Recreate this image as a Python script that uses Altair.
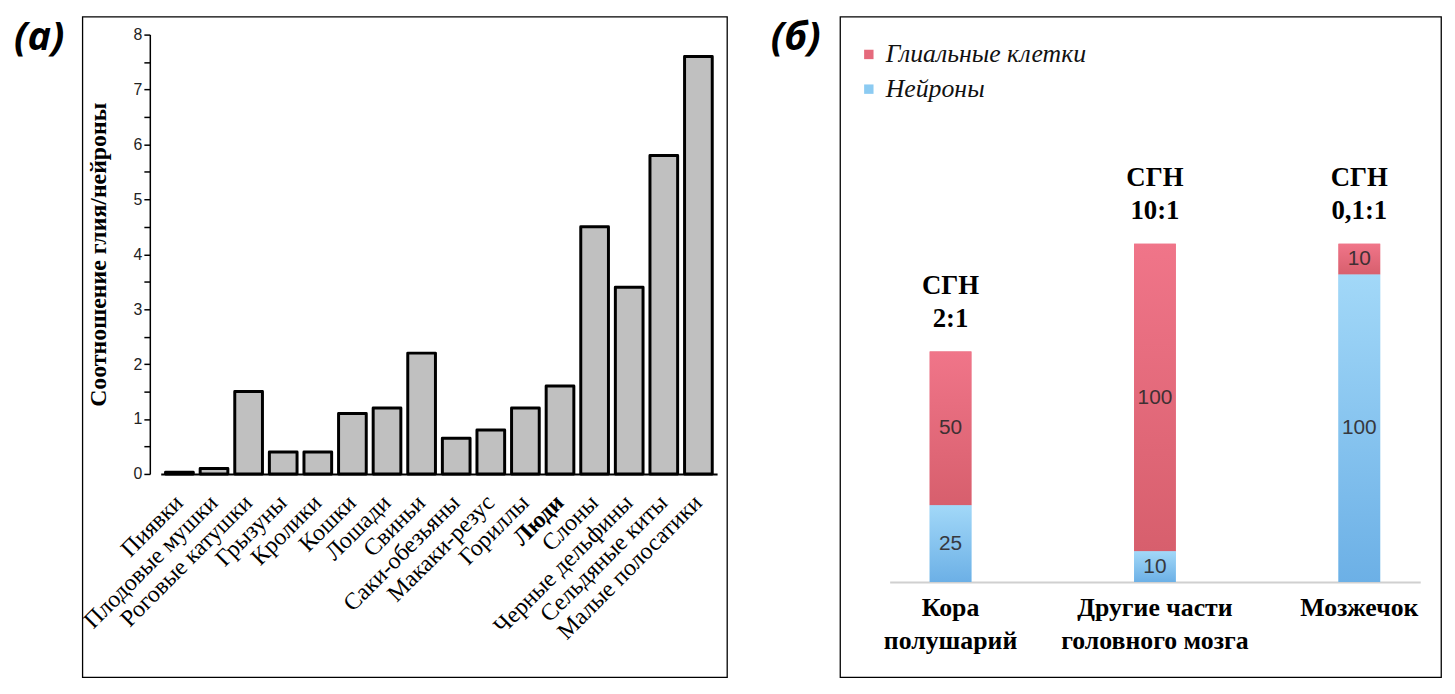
import altair as alt
import pandas as pd

# ---- Panel (а) data ----
species = ["Пиявки", "Плодовые мушки", "Роговые катушки", "Грызуны", "Кролики",
           "Кошки", "Лошади", "Свиньи", "Саки-обезьяны", "Макаки-резус", "Гориллы",
           "Люди", "Слоны", "Черные дельфины", "Сельдяные киты", "Малые полосатики"]
ratios = [0.03, 0.1, 1.5, 0.4, 0.4, 1.1, 1.2, 2.2, 0.65, 0.8, 1.2, 1.6, 4.5, 3.4, 5.8, 7.6]
y_tick_values = [0, 0.5, 1, 1.5, 2, 2.5, 3, 3.5, 4, 4.5, 5, 5.5, 6, 6.5, 7, 7.5, 8]

# ---- Panel (б) data ----
regions = ["Кора\nполушарий", "Другие части\nголовного мозга", "Мозжечок"]
neurons = [25, 10, 100]
glia = [50, 100, 10]
ratio_text = ["2:1", "10:1", "0,1:1"]
series = ["Глиальные клетки", "Нейроны"]

# ---------------- Left panel ----------------
dfa = pd.DataFrame({"species": species, "ratio": ratios})

title_style = dict(anchor="start", orient="top", font="Open Sans", fontSize=40,
                   fontWeight="bold", fontStyle="italic", color="black", offset=0)

left = alt.Chart(dfa).mark_bar(
    fill="#c0c0c0", stroke="black", strokeWidth=3, strokeJoin="round"
).encode(
    x=alt.X("species:N", sort=species, title=None,
            scale=alt.Scale(range=[79, 640], paddingInner=0.2, paddingOuter=0.14),
            axis=alt.Axis(labelAngle=-45, labelBaseline="middle", labelAlign="right",
                          labelFont="Liberation Serif", labelFontSize=24,
                          labelColor="black", ticks=False, domainColor="black", domainWidth=2,
                          offset=-205, labelPadding=25, labelOverlap=False, labelLimit=0,
                          labelFontWeight=alt.ExprRef(expr="datum.value == 'Люди' ? 'bold' : 'normal'"))),
    y=alt.Y("ratio:Q", title="Соотношение глия/нейроны",
            scale=alt.Scale(domain=[0, 8], range=[461, 18], nice=False),
            axis=alt.Axis(values=y_tick_values,
                          labelExpr="datum.value % 1 == 0 ? format(datum.value, 'd') : ''",
                          grid=False, offset=-68, tickSize=6, tickColor="black", tickWidth=1.5,
                          domainColor="black", domainWidth=1.5, labelFont="Liberation Sans",
                          labelFontSize=16, labelColor="#222", titleFont="Liberation Serif",
                          titleFontSize=24, titleFontWeight="bold", titleColor="black",
                          titlePadding=23))
).properties(width=650, height=666,
             title=alt.TitleParams("(а)", dx=-66, dy=42, **title_style))

# ---------------- Right panel ----------------
rows = []
for r, n, g in zip(regions, neurons, glia):
    rows.append({"region": r, "series": series[1], "value": n, "order": 0})
    rows.append({"region": r, "series": series[0], "value": g, "order": 1})
dfb = pd.DataFrame(rows)

dft = pd.DataFrame({"region": regions,
                    "total": [n + g for n, g in zip(neurons, glia)],
                    "label": ["СГН\n" + t for t in ratio_text]})

xb = alt.X("region:N", sort=regions, title=None,
           scale=alt.Scale(range=[50, 585], paddingInner=0.796, paddingOuter=0.196),
           axis=alt.Axis(labelExpr="split(datum.label, '\\n')", labelFont="Liberation Serif",
                         labelFontSize=26, labelFontWeight="bold", labelColor="black",
                         labelAngle=0, ticks=False, domainColor="#d0d0d0", domainWidth=2,
                         offset=-96, labelPadding=13, labelLineHeight=33, labelLimit=0))
yscale = alt.Scale(domain=[0, 110], range=[570, 229], nice=False)

base = alt.Chart(dfb).transform_stack(
    stack="value", groupby=["region"], as_=["y0", "y1"],
    sort=[alt.SortField("order", order="ascending")]
)

bars = base.mark_bar().encode(
    x=xb,
    y=alt.Y("y0:Q", scale=yscale, axis=None),
    y2="y1:Q",
    color=alt.Color("series:N", scale=alt.Scale(domain=series, range=["#e56a7c", "#8ccbf2"]),
                    legend=alt.Legend(title=None, orient="none", legendX=16, legendY=25,
                                      symbolType="square", symbolSize=90, symbolStrokeWidth=0,
                                      labelFont="Liberation Serif", labelFontStyle="italic",
                                      labelFontSize=26, labelColor="#111", labelOffset=4,
                                      labelLimit=0, rowPadding=9))
)

red_grad = alt.Gradient(gradient="linear", x1=0, x2=0, y1=0, y2=1,
                        stops=[alt.GradientStop(color="#f07589", offset=0),
                               alt.GradientStop(color="#d75f6d", offset=1)])
blue_grad = alt.Gradient(gradient="linear", x1=0, x2=0, y1=0, y2=1,
                         stops=[alt.GradientStop(color="#a2d8f8", offset=0),
                                alt.GradientStop(color="#6cb0e6", offset=1)])

glia_bars = base.transform_filter(alt.datum.series == series[0]).mark_bar(fill=red_grad).encode(
    x=xb, y=alt.Y("y0:Q", scale=yscale, axis=None), y2="y1:Q")
neuron_bars = base.transform_filter(alt.datum.series == series[1]).mark_bar(fill=blue_grad).encode(
    x=xb, y=alt.Y("y0:Q", scale=yscale, axis=None), y2="y1:Q")

seg_text = base.transform_calculate(mid="(datum.y0 + datum.y1) / 2").mark_text(
    font="Liberation Sans", fontSize=21, color="#2e2a2c", opacity=0.9
).encode(x=xb, y=alt.Y("mid:Q", scale=yscale, axis=None), text="value:Q")

ann = alt.Chart(dft).mark_text(
    font="Liberation Serif", fontSize=27, fontWeight="bold", color="black",
    baseline="bottom", dy=-52, lineBreak="\n", lineHeight=33
).encode(x=xb, y=alt.Y("total:Q", scale=yscale, axis=None), text="label:N")

right = alt.layer(bars, glia_bars, neuron_bars, seg_text, ann).properties(
    width=606, height=666,
    title=alt.TitleParams("(б)", dx=-70, dy=42, **title_style))

chart = alt.hconcat(left, right, spacing=42).resolve_legend(
    color="independent"
).configure(background="white").configure_view(
    stroke="black", strokeWidth=1.3
)

chart.save("out.html", embed_options={"renderer": "svg", "actions": False})
